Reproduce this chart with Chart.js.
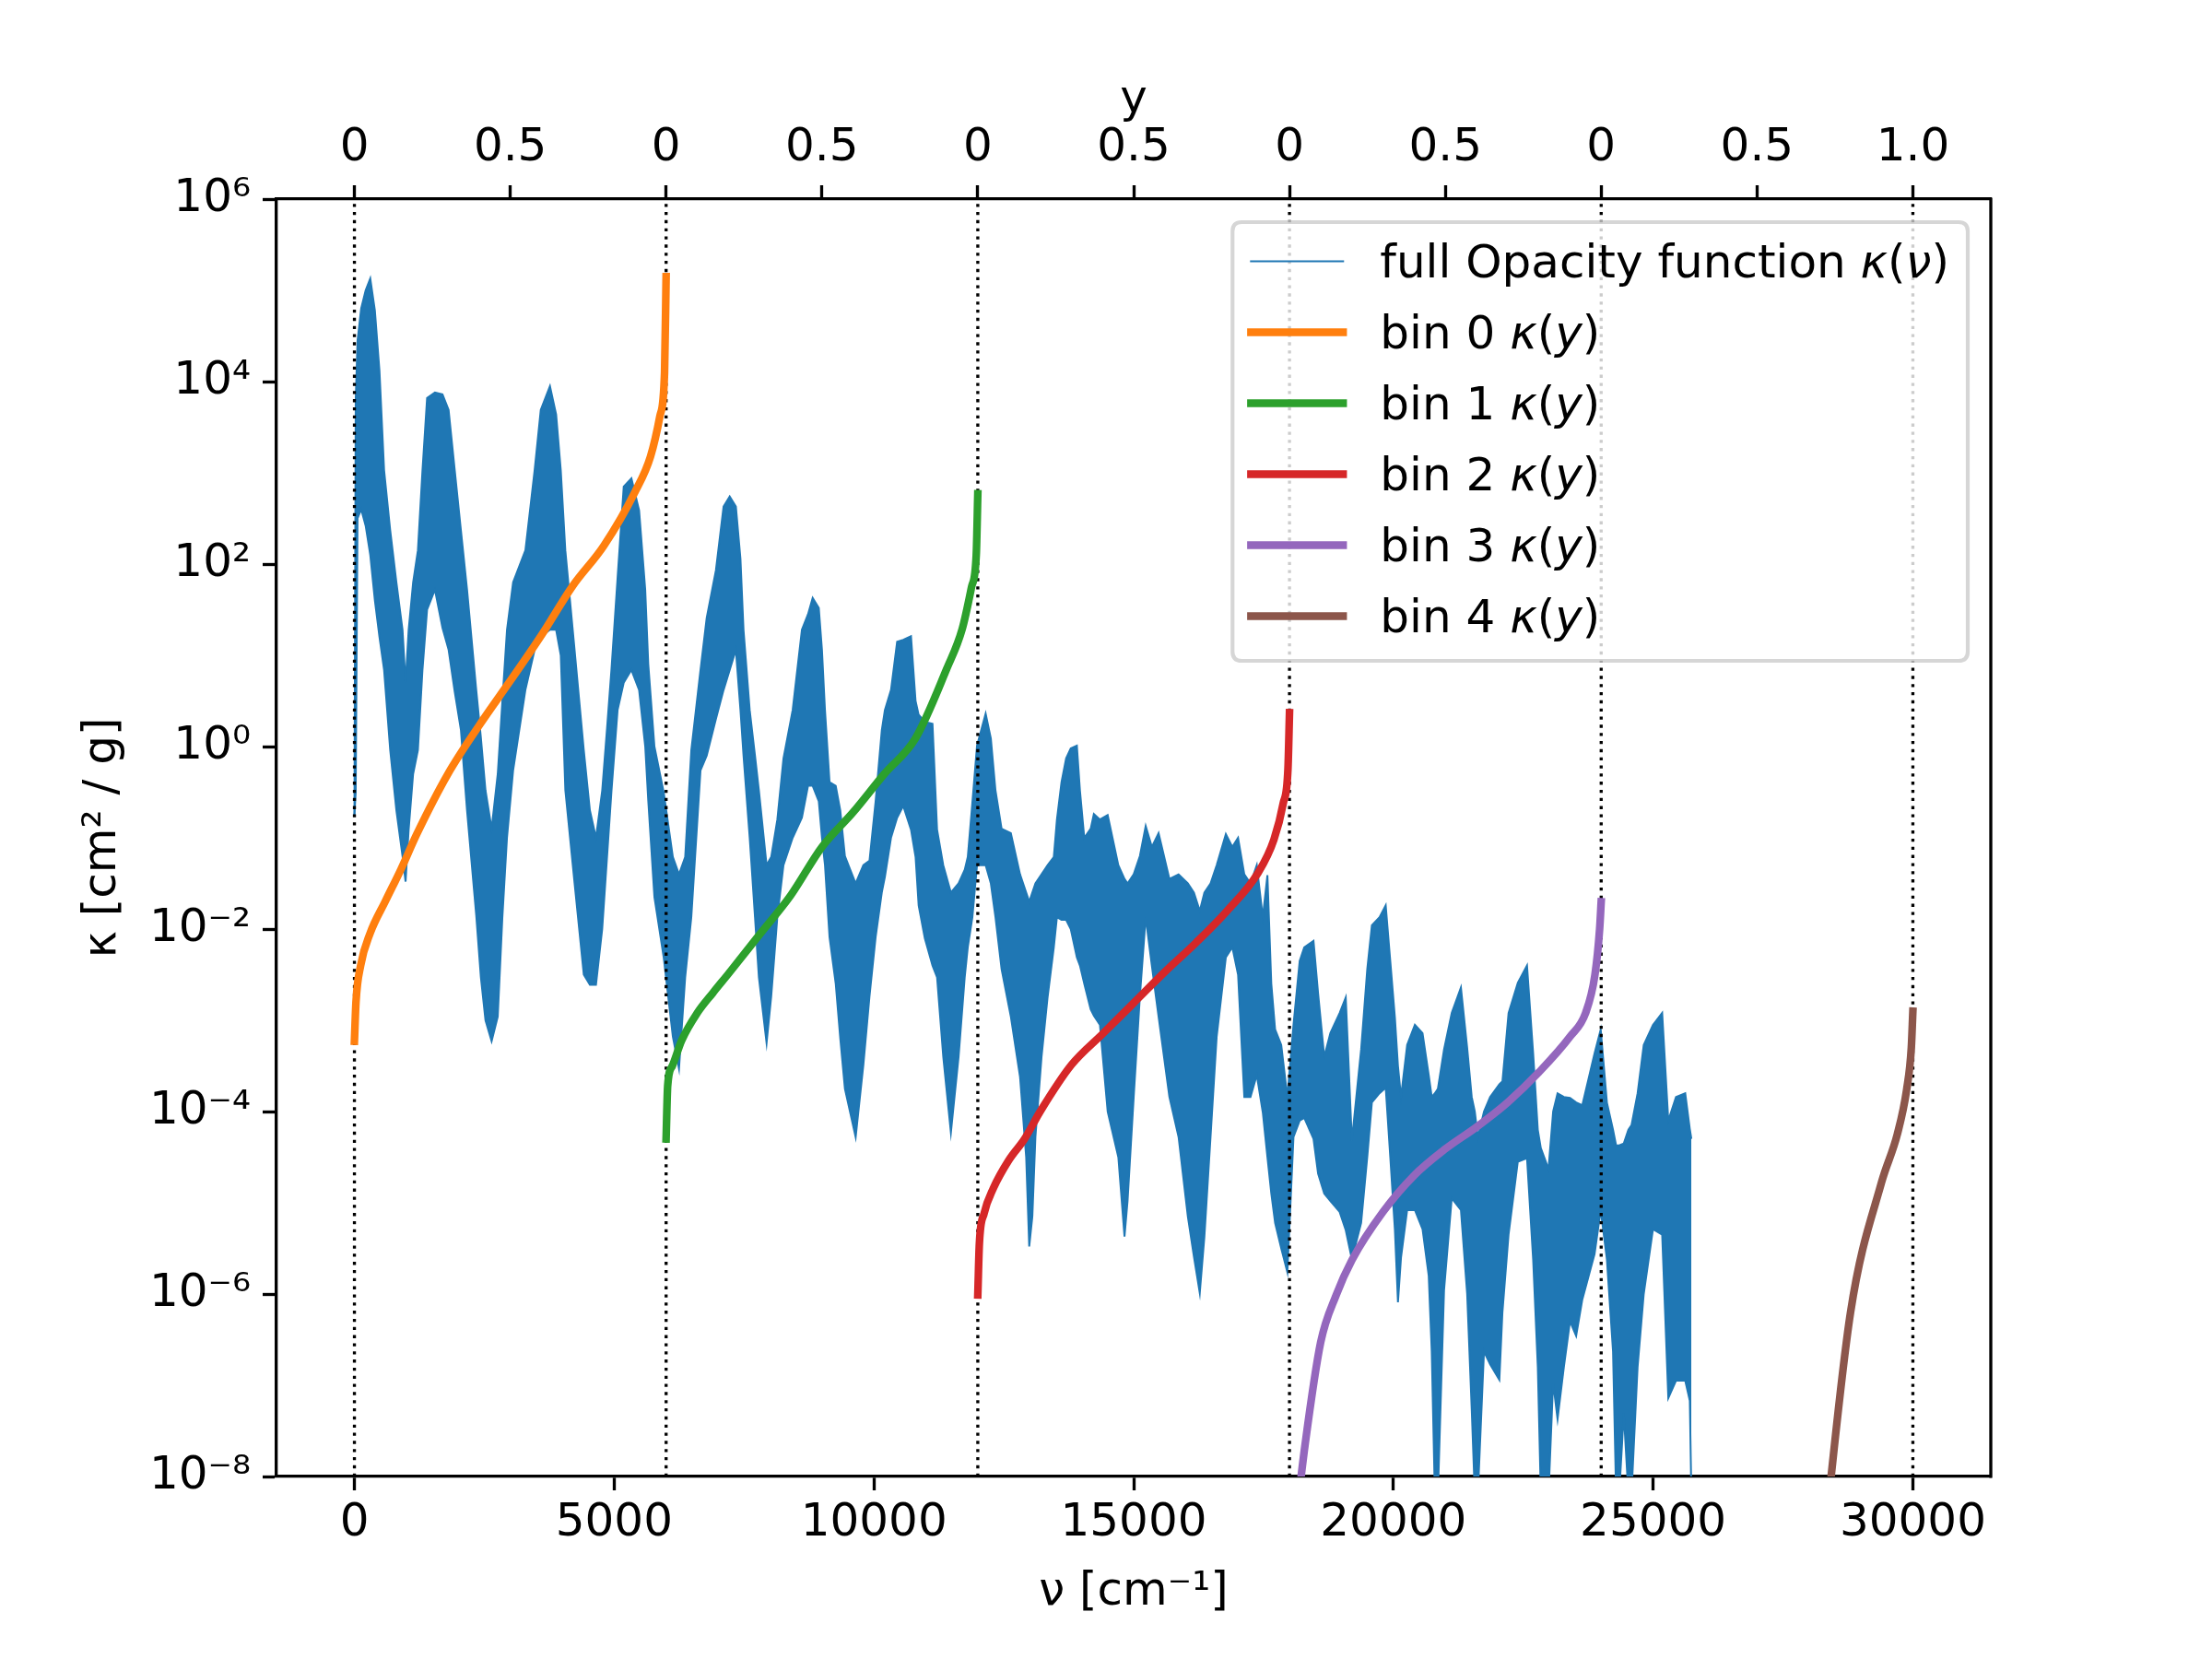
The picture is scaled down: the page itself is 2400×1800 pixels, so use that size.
<!DOCTYPE html>
<html>
<head>
<meta charset="utf-8">
<script src="https://cdn.jsdelivr.net/npm/chart.js@4/dist/chart.umd.min.js"></script>
<style>
html, body { margin: 0; padding: 0; background: #ffffff; }
canvas { display: block; }
</style>
</head>
<body>
<canvas id="chart" width="2400" height="1800"></canvas>
<script>
// ---------- data ----------
// full opacity spectrum: wavenumber grid and log10 of the upper / lower envelope of the dense line forest
const nuGrid = [0,25,60,130,216,305,394,482,571,689,808,926,985,1044,1130,1222,1310,1399,1550,1695,1813,1931,2050,2168,2345,2434,2523,2641,2759,2848,2937,3055,3291,3469,3587,3764,3883,3972,4060,4238,4415,4533,4650,4770,4863,4947,5066,5184,5332,5480,5598,5657,5775,5953,6130,6248,6367,6485,6662,6781,6958,7106,7224,7343,7431,7490,7609,7711,7786,7934,8023,8141,8259,8436,8614,8732,8821,8939,9000,9058,9146,9265,9353,9442,9649,9797,9915,10033,10152,10211,10329,10447,10565,10714,10802,10861,10980,11128,11216,11335,11482,11630,11748,11807,11896,11985,12151,12251,12340,12458,12636,12813,12931,12990,13050,13109,13227,13345,13463,13523,13611,13700,13789,13907,13966,14050,14173,14234,14351,14500,14705,14824,14883,15001,15120,15232,15350,15480,15688,15865,16043,16160,16273,16362,16480,16598,16775,16900,17010,17130,17249,17370,17486,17575,17650,17723,17841,17959,18077,18196,18284,18462,18550,18669,18787,18965,19083,19201,19379,19497,19586,19733,19852,19940,20029,20088,20147,20265,20414,20561,20680,20738,20798,20857,20975,21123,21300,21420,21508,21567,21626,21744,21862,22040,22099,22217,22395,22572,22690,22780,22838,22986,23075,23160,23282,23400,23518,23637,23873,23991,24110,24228,24287,24346,24435,24524,24583,24701,24819,24997,25174,25292,25440,25618,25706,25736];
const logKappaTop = [-0.75,3.8,4.45,4.8,5.0,5.13,4.78,4.12,3.03,2.37,1.8,1.28,0.7,1.28,1.8,2.15,3.03,3.82,3.88,3.86,3.69,3.03,2.37,1.72,0.62,0.1,-0.48,-0.9,-0.3,0.5,1.28,1.8,2.15,3.03,3.69,3.95,3.64,3.03,2.15,1.06,-0.04,-0.7,-1.0,-0.48,0.2,0.84,1.85,2.85,2.94,2.59,1.72,0.9,0.0,-0.5,-1.21,-1.4,-1.21,-0.04,0.84,1.41,1.93,2.63,2.74,2.63,2.06,1.28,0.4,-0.1,-0.48,-1.3,-1.21,-0.8,-0.13,0.4,1.28,1.45,1.63,1.52,1.06,0.4,-0.39,-0.43,-0.7,-1.2,-1.5,-1.3,-1.25,-0.6,0.18,0.4,0.62,1.15,1.17,1.21,0.5,0.35,0.27,0.25,-0.91,-1.3,-1.6,-1.5,-1.35,-1.21,-0.61,0.01,0.36,0.09,-0.48,-0.9,-0.95,-1.4,-1.6,-1.7,-1.6,-1.5,-1.4,-1.3,-1.21,-0.8,-0.39,-0.13,-0.02,0.01,-0.48,-1.0,-0.9,-0.74,-0.8,-0.75,-1.3,-1.45,-1.5,-1.4,-1.2,-0.87,-1.1,-0.95,-1.45,-1.4,-1.5,-1.6,-1.8,-1.6,-1.5,-1.3,-0.96,-1.1,-1.0,-1.4,-1.5,-1.3,-1.87,-1.41,-2.6,-3.1,-3.27,-3.84,-3.05,-2.35,-2.2,-2.13,-2.7,-3.4,-3.14,-2.92,-2.75,-4.32,-3.32,-2.44,-1.96,-1.87,-1.74,-2.35,-2.97,-3.5,-3.84,-3.27,-3.05,-3.14,-3.6,-3.84,-3.8,-3.75,-3.32,-2.92,-2.64,-3.3,-3.84,-4.0,-4.28,-4.0,-3.84,-3.7,-3.67,-2.92,-2.59,-2.4,-3.36,-4.2,-4.4,-4.63,-4.0,-3.8,-3.84,-3.85,-3.9,-3.93,-3.36,-3.1,-3.9,-4.2,-4.37,-4.37,-4.35,-4.2,-4.15,-3.8,-3.27,-3.05,-2.92,-4.1,-3.84,-3.8,-4.19,-4.3];
const logKappaBottom = [-0.75,-0.5,2.5,2.6,2.42,2.1,1.6,1.2,0.84,-0.04,-0.7,-1.2,-1.48,-0.91,-0.3,-0.04,0.84,1.5,1.72,1.3,1.06,0.6,0.18,-0.7,-1.85,-2.53,-3.0,-3.23,-2.96,-1.87,-1.0,-0.26,0.62,1.06,1.2,1.28,1.28,1.0,-0.48,-1.5,-2.5,-2.61,-2.61,-2.0,-1.21,-0.5,0.4,0.7,0.84,0.62,0.0,-0.6,-1.65,-2.31,-3.18,-3.53,-2.53,-1.87,-0.26,-0.1,0.3,0.62,0.84,1.06,0.4,-0.1,-1.0,-1.87,-2.53,-3.25,-2.74,-1.87,-1.3,-1.0,-0.78,-0.43,-0.43,-0.6,-1.0,-1.3,-2.09,-2.6,-3.2,-3.75,-4.28,-3.49,-2.74,-2.09,-1.6,-1.43,-1.0,-0.78,-0.65,-0.91,-1.21,-1.74,-2.1,-2.4,-2.53,-3.4,-4.23,-3.4,-2.53,-2.2,-1.87,-1.3,-1.3,-1.5,-1.87,-2.44,-2.96,-3.62,-4.5,-5.48,-5.15,-4.28,-3.4,-2.74,-2.2,-1.87,-1.9,-1.9,-2.0,-2.31,-2.4,-2.6,-2.88,-2.95,-3.05,-4.0,-4.5,-5.37,-4.98,-3.84,-2.74,-1.87,-2.4,-2.96,-3.84,-4.28,-5.15,-5.59,-5.99,-5.37,-4.28,-3.18,-2.31,-2.2,-2.5,-3.84,-3.84,-3.6,-4.01,-4.5,-4.9,-5.22,-5.5,-5.76,-4.28,-4.1,-4.07,-4.3,-4.68,-4.9,-4.98,-5.1,-5.3,-5.62,-5.22,-4.5,-3.9,-3.8,-3.74,-4.5,-5.3,-6.09,-5.6,-5.08,-5.08,-5.29,-5.8,-6.63,-8.2,-8.2,-5.96,-4.95,-5.08,-6.0,-7.27,-8.2,-8.2,-6.63,-6.77,-6.94,-6.2,-5.35,-4.55,-4.51,-5.62,-6.8,-8.2,-8.2,-6.97,-7.37,-6.8,-6.3,-6.46,-6.06,-5.56,-5.08,-5.62,-6.63,-8.2,-8.2,-7.31,-8.2,-8.2,-6.8,-6.0,-5.29,-5.35,-7.14,-6.95,-6.95,-7.17,-8.2];

// k-distribution of each bin: cumulative fraction y inside the bin and log10 kappa(y)
const binFraction = [0,0.005,0.02,0.05,0.1,0.15,0.2,0.3,0.4,0.5,0.6,0.7,0.8,0.9,0.95,0.98,0.995,1.0];
const bin0LogKappa = [-3.23,-2.8,-2.4,-2.05,-1.69,-1.34,-0.96,-0.30,0.23,0.72,1.22,1.76,2.20,2.79,3.18,3.62,4.1,5.15];
const bin1LogKappa = [-4.30,-3.72,-3.50,-3.22,-2.92,-2.70,-2.49,-2.06,-1.63,-1.10,-0.72,-0.30,0.09,0.85,1.29,1.75,2.1,2.77];
const bin2LogKappa = [-6.01,-5.45,-5.12,-4.84,-4.53,-4.30,-4.00,-3.49,-3.15,-2.81,-2.47,-2.15,-1.80,-1.38,-1.02,-0.62,-0.25,0.37];
const bin3LogKappa = [null,null,-8.5,-7.65,-6.53,-6.01,-5.63,-5.10,-4.70,-4.41,-4.17,-3.90,-3.57,-3.18,-2.92,-2.5,-2.0,-1.70];
const bin4LogKappa = [null,null,null,null,null,null,null,null,null,null,null,-9.2,-6.2,-4.77,-4.25,-3.76,-3.3,-2.90];

const binWidth = 6000;
const binEdges = [0,6000,12000,18000,24000,30000];

const xTickValues = [0,5000,10000,15000,20000,25000,30000];
const xTickLabels = ['0','5000','10000','15000','20000','25000','30000'];
const topTickValues = [0,3000,6000,9000,12000,15000,18000,21000,24000,27000,30000];
const topTickLabels = ['0','0.5','0','0.5','0','0.5','0','0.5','0','0.5','1.0'];
const yTickValues = [1e-8,1e-6,1e-4,1e-2,1e0,1e2,1e4,1e6];
const yTickLabels = ['10\u207B\u2078','10\u207B\u2076','10\u207B\u2074','10\u207B\u00B2','10\u2070','10\u00B2','10\u2074','10\u2076'];

const seriesLabels = ['full Opacity function \u03BA(\u03BD)','bin 0 \u03BA(y)','bin 1 \u03BA(y)','bin 2 \u03BA(y)','bin 3 \u03BA(y)','bin 4 \u03BA(y)'];
const seriesColors = ['#1f77b4','#ff7f0e','#2ca02c','#d62728','#9467bd','#8c564b'];

// ---------- build datasets ----------
const FONT = 'DejaVu Sans';
const FS = 50;
const toPts = (xs, logs) => xs.map((x, i) => ({ x: x, y: logs[i] === null ? null : Math.pow(10, logs[i]) }));

const binLogs = [bin0LogKappa, bin1LogKappa, bin2LogKappa, bin3LogKappa, bin4LogKappa];
const datasets = [];
datasets.push({
  label: seriesLabels[0], data: toPts(nuGrid, logKappaTop),
  borderColor: seriesColors[0], borderWidth: 2, pointRadius: 0, fill: false,
  order: 30, clip: 0, tension: 0
});
datasets.push({
  label: seriesLabels[0] + ' (lower)', data: toPts(nuGrid, logKappaBottom),
  borderColor: seriesColors[0], backgroundColor: seriesColors[0], borderWidth: 2, pointRadius: 0,
  fill: '-1', order: 30, clip: 0, tension: 0
});
// dotted bin edges
const edgePts = [];
binEdges.forEach(e => { edgePts.push({ x: e, y: 1e-8 }, { x: e, y: 1e6 }, { x: e, y: null }); });
datasets.push({
  label: 'bin edges', data: edgePts, borderColor: '#000000', borderWidth: 3.33,
  borderDash: [3.33, 5.5], borderCapStyle: 'butt', pointRadius: 0, fill: false, spanGaps: false,
  order: 20, clip: 0
});
binLogs.forEach((logs, b) => {
  datasets.push({
    label: seriesLabels[b + 1],
    data: toPts(binFraction.map(f => binWidth * (b + f)), logs),
    borderColor: seriesColors[b + 1], borderWidth: 8.3, pointRadius: 0, fill: false,
    borderCapStyle: 'square', borderJoinStyle: 'round', spanGaps: false,
    cubicInterpolationMode: 'monotone',
    order: 10, clip: 0
  });
});

// ---------- plugins ----------
function richSegments(label) {
  const sp = label.lastIndexOf(' ');
  const segs = [{ t: label.slice(0, sp + 1), it: false }];
  for (const ch of label.slice(sp + 1)) segs.push({ t: ch, it: /[\u03BA\u03BDy]/.test(ch) });
  return segs;
}
function richWidth(ctx, label) {
  let w = 0;
  for (const s of richSegments(label)) {
    ctx.font = (s.it ? 'italic ' : '') + FS + 'px "' + FONT + '"';
    w += ctx.measureText(s.t).width;
  }
  return w;
}
function drawRich(ctx, label, x, y) {
  for (const s of richSegments(label)) {
    ctx.font = (s.it ? 'italic ' : '') + FS + 'px "' + FONT + '"';
    ctx.fillText(s.t, x, y);
    x += ctx.measureText(s.t).width;
  }
}

const frameRight = {
  id: 'frameRight',
  afterDatasetsDraw(chart) {
    const { ctx, chartArea: a } = chart;
    ctx.save();
    ctx.strokeStyle = '#000'; ctx.lineWidth = 3.33;
    ctx.beginPath(); ctx.moveTo(a.right, a.top - 1.6); ctx.lineTo(a.right, a.bottom + 1.6); ctx.stroke();
    ctx.restore();
  }
};

const mplLegend = {
  id: 'mplLegend',
  afterDraw(chart) {
    const { ctx, chartArea: a } = chart;
    const pad = 0.4 * FS, handleLen = 2 * FS, textPad = 0.8 * FS, axPad = 0.5 * FS;
    const pitch = 1.54 * FS, firstRow = 0.85 * FS, height = 9.52 * FS;
    const entries = [
      { label: seriesLabels[0], color: seriesColors[0], lw: 2 },
      ...[1, 2, 3, 4, 5].map(i => ({ label: seriesLabels[i], color: seriesColors[i], lw: 8.3 }))
    ];
    ctx.save();
    let maxW = 0;
    entries.forEach(e => { maxW = Math.max(maxW, richWidth(ctx, e.label)); });
    const width = pad + handleLen + textPad + maxW + pad;
    const right = a.right - axPad, top = a.top + axPad, left = right - width;
    const r = 0.2 * FS;
    ctx.beginPath();
    ctx.moveTo(left + r, top);
    ctx.lineTo(right - r, top); ctx.quadraticCurveTo(right, top, right, top + r);
    ctx.lineTo(right, top + height - r); ctx.quadraticCurveTo(right, top + height, right - r, top + height);
    ctx.lineTo(left + r, top + height); ctx.quadraticCurveTo(left, top + height, left, top + height - r);
    ctx.lineTo(left, top + r); ctx.quadraticCurveTo(left, top, left + r, top);
    ctx.closePath();
    ctx.fillStyle = 'rgba(255,255,255,0.8)';
    ctx.fill();
    ctx.strokeStyle = 'rgba(204,204,204,0.8)';
    ctx.lineWidth = 4.17;
    ctx.stroke();
    entries.forEach((e, i) => {
      const cy = top + firstRow + i * pitch;
      ctx.strokeStyle = e.color; ctx.lineWidth = e.lw; ctx.lineCap = 'square';
      ctx.beginPath(); ctx.moveTo(left + pad, cy); ctx.lineTo(left + pad + handleLen, cy); ctx.stroke();
      ctx.fillStyle = '#000'; ctx.textBaseline = 'alphabetic'; ctx.textAlign = 'left';
      drawRich(ctx, e.label, left + pad + handleLen + textPad, cy + 17);
    });
    ctx.restore();
  }
};

// ---------- chart ----------
Chart.defaults.font.family = FONT;
Chart.defaults.color = '#000';

const tickFont = { family: FONT, size: FS };
const gridOpts = { display: true, drawOnChartArea: false, drawTicks: true, tickLength: 15, tickWidth: 3.33, tickColor: '#000' };
const borderOpts = { display: true, color: '#000', width: 3.33 };

new Chart(document.getElementById('chart'), {
  type: 'line',
  data: { datasets: datasets },
  options: {
    responsive: false,
    devicePixelRatio: 1,
    animation: false,
    events: [],
    layout: { padding: { left: 0, right: 240, top: 0, bottom: 0 } },
    plugins: { legend: { display: false }, tooltip: { enabled: false } },
    scales: {
      x: {
        type: 'linear', position: 'bottom', min: -1500, max: 31500, z: 1,
        afterBuildTicks: s => { s.ticks = xTickValues.map(v => ({ value: v })); },
        afterFit: s => { s.height = 198; },
        ticks: { font: tickFont, color: '#000', padding: 6, maxRotation: 0, autoSkip: false,
                 callback: (v, i) => xTickLabels[i] },
        grid: gridOpts, border: borderOpts,
        title: { display: true, text: '\u03BD [cm\u207B\u00B9]', font: tickFont, color: '#000', padding: { top: 0, bottom: 42 } }
      },
      xTop: {
        type: 'linear', position: 'top', min: -1500, max: 31500, z: 1,
        afterBuildTicks: s => { s.ticks = topTickValues.map(v => ({ value: v })); },
        afterFit: s => { s.height = 216; },
        ticks: { font: tickFont, color: '#000', padding: 10, maxRotation: 0, autoSkip: false,
                 callback: (v, i) => topTickLabels[i] },
        grid: gridOpts, border: borderOpts,
        title: { display: true, text: 'y', font: tickFont, color: '#000', padding: { top: 79, bottom: 0 } }
      },
      y: {
        type: 'logarithmic', position: 'left', min: 1e-8, max: 1e6, z: 1,
        afterBuildTicks: s => { s.ticks = yTickValues.map(v => ({ value: v })); },
        afterFit: s => { s.width = 300; },
        ticks: { font: tickFont, color: '#000', padding: 13, autoSkip: false,
                 callback: (v, i) => yTickLabels[i] },
        grid: gridOpts, border: borderOpts,
        title: { display: true, text: '\u03BA [cm\u00B2 / g]', font: tickFont, color: '#000', padding: { top: 82, bottom: 0 } }
      }
    }
  },
  plugins: [frameRight, mplLegend]
});
</script>
</body>
</html>
